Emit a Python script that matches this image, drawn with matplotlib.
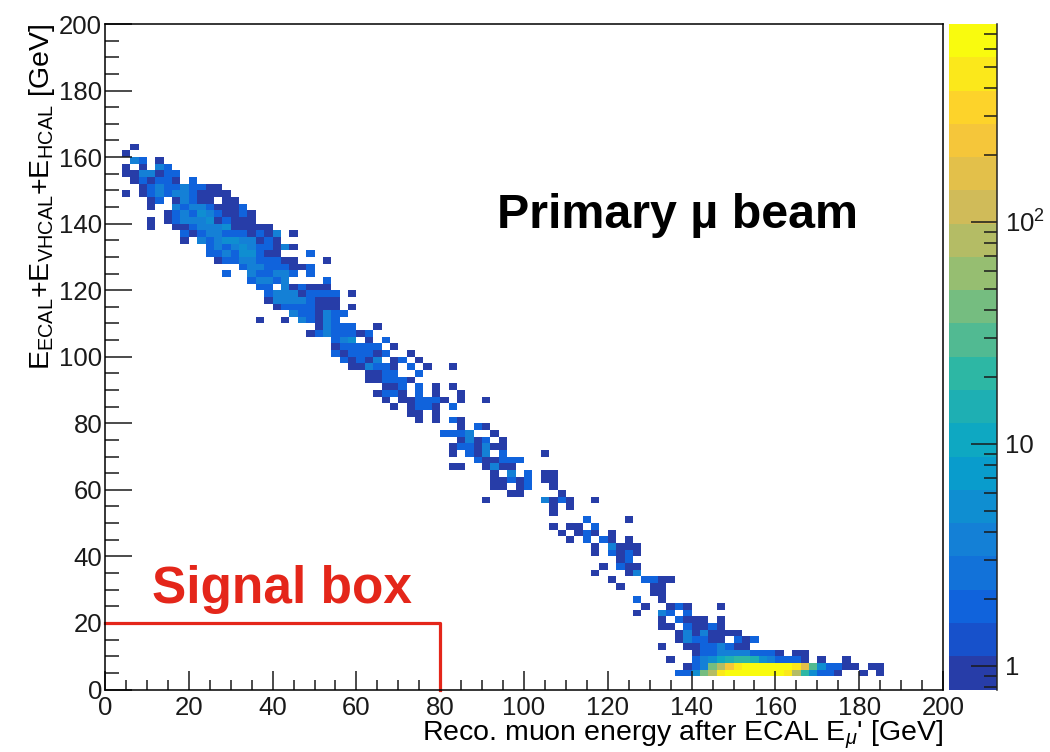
import numpy as np
import matplotlib
matplotlib.use("Agg")
import matplotlib.pyplot as plt
from matplotlib.colors import LinearSegmentedColormap, ListedColormap, LogNorm
from matplotlib.ticker import FixedLocator, MultipleLocator, LogLocator, NullFormatter

plt.rcParams['font.family'] = ['Liberation Sans', 'DejaVu Sans']
plt.rcParams['mathtext.fontset'] = 'custom'
plt.rcParams['mathtext.rm'] = 'Liberation Sans'
plt.rcParams['mathtext.it'] = 'Liberation Sans:italic'
plt.rcParams['mathtext.bf'] = 'Liberation Sans:bold'

# histogram binning: 100 x 100 bins of 2 GeV
n_bins = 100
e_max = 200.0

# cell contents, read row by row (y bin, first x bin, cell codes)
# '.' = empty, digits = entries, letters = larger entries (see code_counts)
row_ybin = [81, 80, 79, 78, 77, 76, 75, 74, 73, 72, 71, 70, 69, 68,
            67, 66, 65, 64, 63, 62, 61, 60, 59, 58, 57, 56,
            55, 54, 53, 52, 51, 50, 49, 48, 47, 46, 45, 44,
            43, 42, 41, 40, 39, 38, 37, 36, 35, 34, 33, 32,
            31, 30, 29, 28, 27, 26, 25, 24, 23, 22, 21, 20,
            19, 18, 17, 16, 15, 14, 13, 12, 11, 10,
            9, 8, 7, 6, 5, 4, 3, 2]
row_xstart = [3, 2, 3, 2, 2, 3, 4, 2, 5, 5, 7, 5, 5, 9,
              9, 12, 12, 13, 16, 14, 17, 18, 19, 19, 20, 22,
              18, 25, 24, 27, 27, 27, 28, 29, 31, 31, 33, 32,
              33, 34, 36, 37, 42, 40, 42, 41, 41, 44, 41, 46,
              46, 46, 48, 45, 53, 53, 57, 53, 54, 55, 58, 58,
              61, 59, 58, 60, 61, 65, 63, 64, 63, 66,
              66, 68, 68, 66, 70, 67, 69, 68]
row_cells = [
    "1", "1", "42.1", "1.1.42", "1144122", "121221.2", "1242242211",
    "1.12424421111", "12.14211.11", "1..424421112", "12426421121",
    "1.12444612111", "1..112444611111", "212442221214.1",
    "1.4246644121", "24246422141", "224266211...2", "1224422211...1",
    "244222112", "2..422442.2", "24424....2", "22.412111", "244412222.1",
    "144442111", "12222111.1", "4221422",
    "1..1.42142", "14222..1", "12422212", "246.1.2", "122222.1",
    "2122212..1", "21214.12.1", "114221.2.1..1", "1122..2", "112221",
    "112.2.1.1", "1221.2.1..1",
    "1.112221.1..1", "1.1221.2", "11.1", "1.1.21", "1.21", "2224..1",
    "1412.1", "1221411", "1.214.2....1", "211222", "11..1411", "1.4.2.11",
    "11212.11", "11.12..1", "11....1", "1......4121..1", "1.1", "1",
    "2....1", "1.11.2", "1.121.1", "1.2.21.1", "1.4111", "1.2121",
    "12", "1.211", "1...14", "1...2211", "1...11", "11", "2..1",
    "1..121...1", "1..42.2", "1.2111.1",
    "11.21121", "14141111", "142211.212", "1..11224211", "12244442221.11",
    "1..246abccb642221.1..1", "124egijlllllkjhd62211.11",
    "225egjklllllkjgc6221..1.1",
]
code_counts = {'a': 12, 'b': 15, 'c': 20, 'd': 30, 'e': 45, 'f': 60,
               'g': 90, 'h': 150, 'i': 250, 'j': 420, 'k': 560, 'l': 760}

# z range of the palette (log, 20 contours)
z_min = 0.78
z_max = 780.0
n_contours = 20
cbar_ticks = [1, 10, 100]
cbar_labels = ['1', '10', r'$10^{2}$']

# ROOT kBird palette
bird_stops = [0.0, 0.125, 0.25, 0.375, 0.5, 0.625, 0.75, 0.875, 1.0]
bird_r = [0.2082, 0.0592, 0.0780, 0.0232, 0.1802, 0.5301, 0.8186, 0.9956, 0.9764]
bird_g = [0.1664, 0.3599, 0.5041, 0.6419, 0.7178, 0.7492, 0.7328, 0.7862, 0.9832]
bird_b = [0.5293, 0.8684, 0.8385, 0.7914, 0.6425, 0.4662, 0.3499, 0.1968, 0.0539]

box_x = [0, 80, 80]
box_y = [20, 20, 0]
red = '#e4261a'


def build_grid():
    grid = np.zeros((n_bins, n_bins))
    for yb, xs, cells in zip(row_ybin, row_xstart, row_cells):
        for k, ch in enumerate(cells):
            if ch == '.':
                continue
            if ch.isdigit():
                grid[yb, xs + k] = int(ch)
            else:
                grid[yb, xs + k] = code_counts[ch]
    return np.ma.masked_equal(grid, 0)


def make_cmap():
    bird = LinearSegmentedColormap.from_list(
        'bird', list(zip(bird_stops, zip(bird_r, bird_g, bird_b))))
    cols = [bird((i + 0.99) / n_contours) for i in range(n_contours)]
    return ListedColormap(cols)


fig = plt.figure(figsize=(10.5, 7.52), dpi=100)
ax = fig.add_axes([105 / 1050, 62.5 / 752, 838 / 1050, 665.5 / 752])

edges = np.linspace(0, e_max, n_bins + 1)
mesh = ax.pcolormesh(edges, edges, build_grid(), cmap=make_cmap(),
                     norm=LogNorm(vmin=z_min, vmax=z_max))

ax.set_xlim(0, e_max)
ax.set_ylim(0, e_max)
ax.xaxis.set_major_locator(MultipleLocator(20))
ax.xaxis.set_minor_locator(MultipleLocator(5))
ax.yaxis.set_major_locator(MultipleLocator(20))
ax.yaxis.set_minor_locator(MultipleLocator(5))
ax.tick_params(axis='both', which='both', direction='in', width=1.1,
               top=False, right=False, labelsize=18.5, colors='#1a1a1a')
ax.tick_params(axis='x', which='major', length=13.5, pad=5)
ax.tick_params(axis='x', which='minor', length=7)
ax.tick_params(axis='y', which='major', length=19.5, pad=2)
ax.tick_params(axis='y', which='minor', length=10)
for sp in ax.spines.values():
    sp.set_linewidth(1.1)

# axis titles, ROOT style (right aligned)
ax.text(1.0, -0.0767, r"Reco. muon energy after ECAL $\mathrm{E}_{\mu}$' [GeV]",
        transform=ax.transAxes, ha='right', va='baseline', fontsize=20.5)
ax.text(-0.075, 1.0,
        r'$\mathrm{E}_{\mathrm{ECAL}}$+$\mathrm{E}_{\mathrm{VHCAL}}$+$\mathrm{E}_{\mathrm{HCAL}}$ [GeV]',
        transform=ax.transAxes, rotation=90, ha='center', va='top', fontsize=20.5)

# signal box
ax.plot(box_x, box_y, color=red, lw=2.3, clip_on=False)
ax.text(11.2, 30, 'Signal box', color=red, fontsize=37, fontweight='bold',
        ha='left', va='center')
ax.text(93.5, 142.5, 'Primary \u00b5 beam', color='black', fontsize=34.8,
        fontweight='bold', ha='left', va='center')

# palette
cax = fig.add_axes([948.5 / 1050, 62.5 / 752, 48.5 / 1050, 665.5 / 752])
cb = fig.colorbar(mesh, cax=cax)
cb.outline.set_visible(False)
cax.plot([1, 1], [0, 1], transform=cax.transAxes, color='#222222', lw=1.1,
         clip_on=False)
cax.yaxis.set_major_locator(FixedLocator(cbar_ticks))
cax.set_yticklabels(cbar_labels)
cax.yaxis.set_minor_locator(LogLocator(subs=np.arange(2, 10)))
cax.yaxis.set_minor_formatter(NullFormatter())
cax.tick_params(axis='y', which='both', direction='in', right=True, left=False,
                labelright=True, width=1.1, labelsize=18.5, colors='#1a1a1a')
cax.tick_params(axis='y', which='major', length=19, pad=6)
cax.tick_params(axis='y', which='minor', length=9.5)

fig.savefig('out.png', dpi=100)
